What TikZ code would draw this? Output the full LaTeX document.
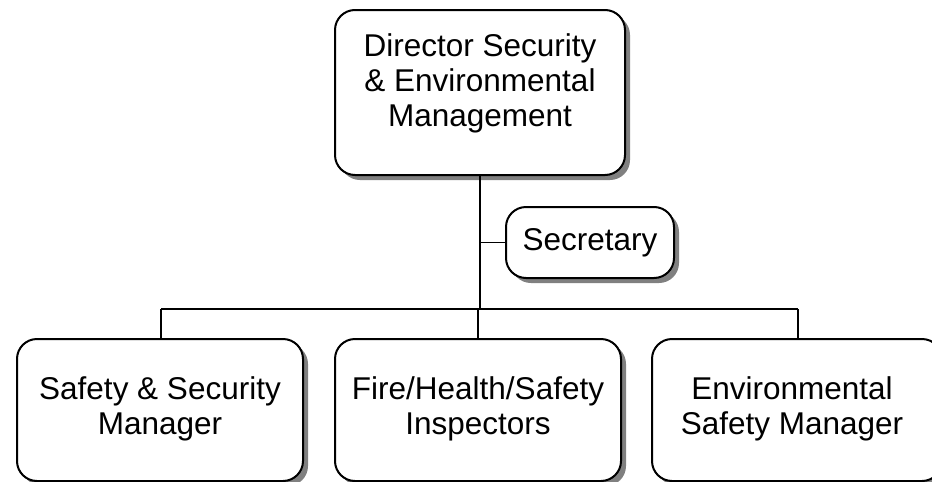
\documentclass[tikz,border=0pt]{standalone}
\usepackage{fontspec}
\setmainfont{Liberation Sans}
\usetikzlibrary{shadows}
\begin{document}
\begin{tikzpicture}[x=1pt,y=-1pt,
  orgbox/.style={draw=black, line width=2pt, fill=white, rounded corners=20pt,
    align=center, inner sep=0pt,
    drop shadow={shadow xshift=5pt, shadow yshift=-5pt, fill=black!50, opacity=1}},
  lbl/.style={align=center, inner sep=0pt, font=\fontsize{31.5pt}{35pt}\selectfont},
  conn/.style={draw=black, line width=1.8pt}]
\useasboundingbox (0,0) rectangle (932,482);
\clip (0,0) rectangle (932,482);
\fill[white] (0,0) rectangle (932,482);
% boxes
\node[orgbox, minimum width=290pt, minimum height=165pt] (dir) at (480,92.5) {};
\node[lbl] (dirtxt) at (480,83) {Director Security\\\& Environmental\\Management};
\node[orgbox, minimum width=168pt, minimum height=71pt] (sec) at (590,242.5) {};
\node[lbl] (sectxt) at (590,242.5) {Secretary};
\node[orgbox, minimum width=286pt, minimum height=142pt] (ssm) at (160,410) {};
\node[lbl] (ssmtxt) at (160,409) {Safety \& Security\\Manager};
\node[orgbox, minimum width=286pt, minimum height=142pt] (fhs) at (478,410) {};
\node[lbl] (fhstxt) at (478,409) {Fire/Health/Safety\\Inspectors};
\node[orgbox, minimum width=290pt, minimum height=142pt] (esm) at (797,410) {};
\node[lbl] (esmtxt) at (792,409) {Environmental\\Safety Manager};
% connectors
\coordinate (busL) at (161,309);
\coordinate (busR) at (798,309);
\draw[conn] (dir.south) -- (dir.south |- busL);
\draw[conn] (sec.west) -- (sec.west -| dir.south);
\draw[conn] (busL) -- (busR);
\draw[conn] (ssm.north -| busL) -- (busL);
\draw[conn] (fhs.north) -- (fhs.north |- busL);
\draw[conn] (esm.north -| busR) -- (busR);
\end{tikzpicture}
\end{document}
